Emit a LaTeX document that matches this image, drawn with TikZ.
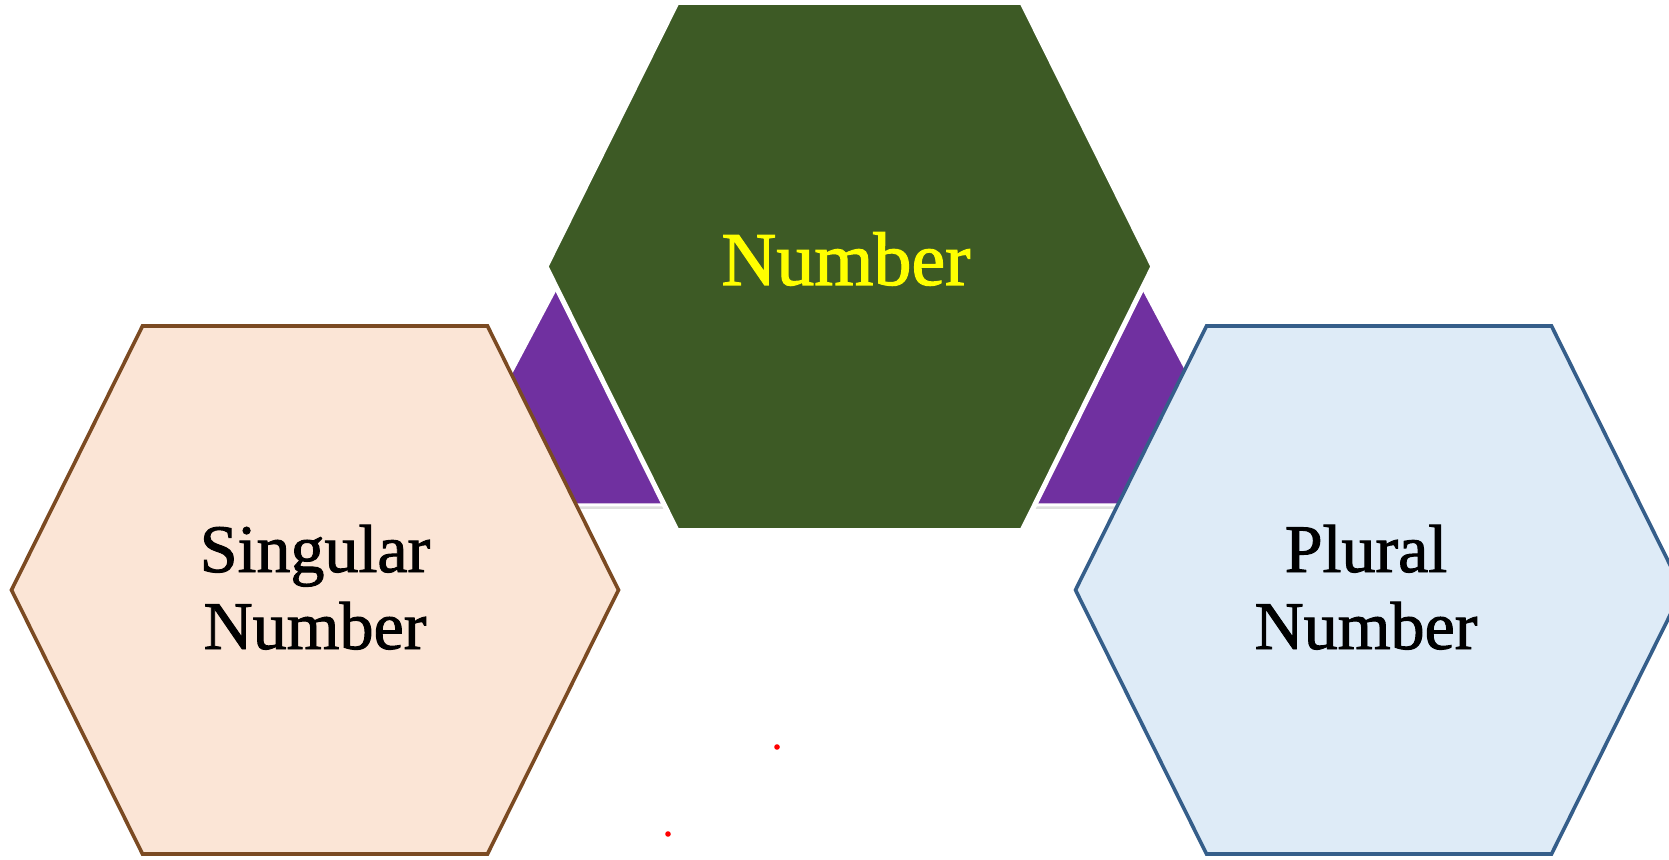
\documentclass[tikz,border=0pt]{standalone}
\usepackage{fontspec}
\setmainfont{Liberation Serif}
\newfontfamily\capfont[FakeBold=1.4]{Liberation Serif}
\usetikzlibrary{shadows}

\definecolor{numgreen}{HTML}{3D5A25}
\definecolor{wedge}{HTML}{7030A0}
\definecolor{singfill}{HTML}{FBE5D6}
\definecolor{singline}{HTML}{7B4A22}
\definecolor{plurfill}{HTML}{DEEBF7}
\definecolor{plurline}{HTML}{355E8A}
\definecolor{numtext}{HTML}{FFFF00}

\begin{document}
\begin{tikzpicture}[x=0.5pt,y=-0.5pt,
   hexa/.pic={
      \path[pic actions] (-303.5,0) -- (-172.5,-264) -- (172.5,-264)
         -- (303.5,0) -- (172.5,264) -- (-172.5,264) -- cycle;
   },
   soft/.style={drop shadow={shadow xshift=0pt,shadow yshift=-2pt,opacity=.25}},
   caption/.style={font=\capfont\fontsize{34}{38.5}\selectfont, align=center, anchor=base}]

   \useasboundingbox (0,0) rectangle (1669,860);
   \clip (0,0) rectangle (1669,860);

   % purple wedges behind the middle hexagon
   \fill[wedge, draw=white, line width=1.5, soft] (556,288) -- (664,505) -- (441,505) -- cycle;
   \fill[wedge, draw=white, line width=1.5, soft] (1143,288) -- (1035,505) -- (1258,505) -- cycle;

   % hexagons
   \pic[fill=numgreen, draw=white, line width=2.5, soft] (numb) at (849.5,266.5) {hexa};
   \pic[fill=singfill, draw=singline, line width=1.8, soft] (sing) at (315,590) {hexa};
   \pic[fill=plurfill, draw=plurline, line width=1.8, soft] (plur) at (1379,590) {hexa};

   \node[caption, text=numtext, font=\capfont\fontsize{38}{40}\selectfont] (numbtxt) at (846,285) {Number};
   \node[caption] (singtxt) at (315,649) {Singular\\Number};
   \node[caption] (plurtxt) at (1366,649) {Plural\\Number};

   % stray dots
   \fill[red] (777,747) circle[radius=2.8];
   \fill[red] (668,834) circle[radius=2.8];

\end{tikzpicture}
\end{document}
